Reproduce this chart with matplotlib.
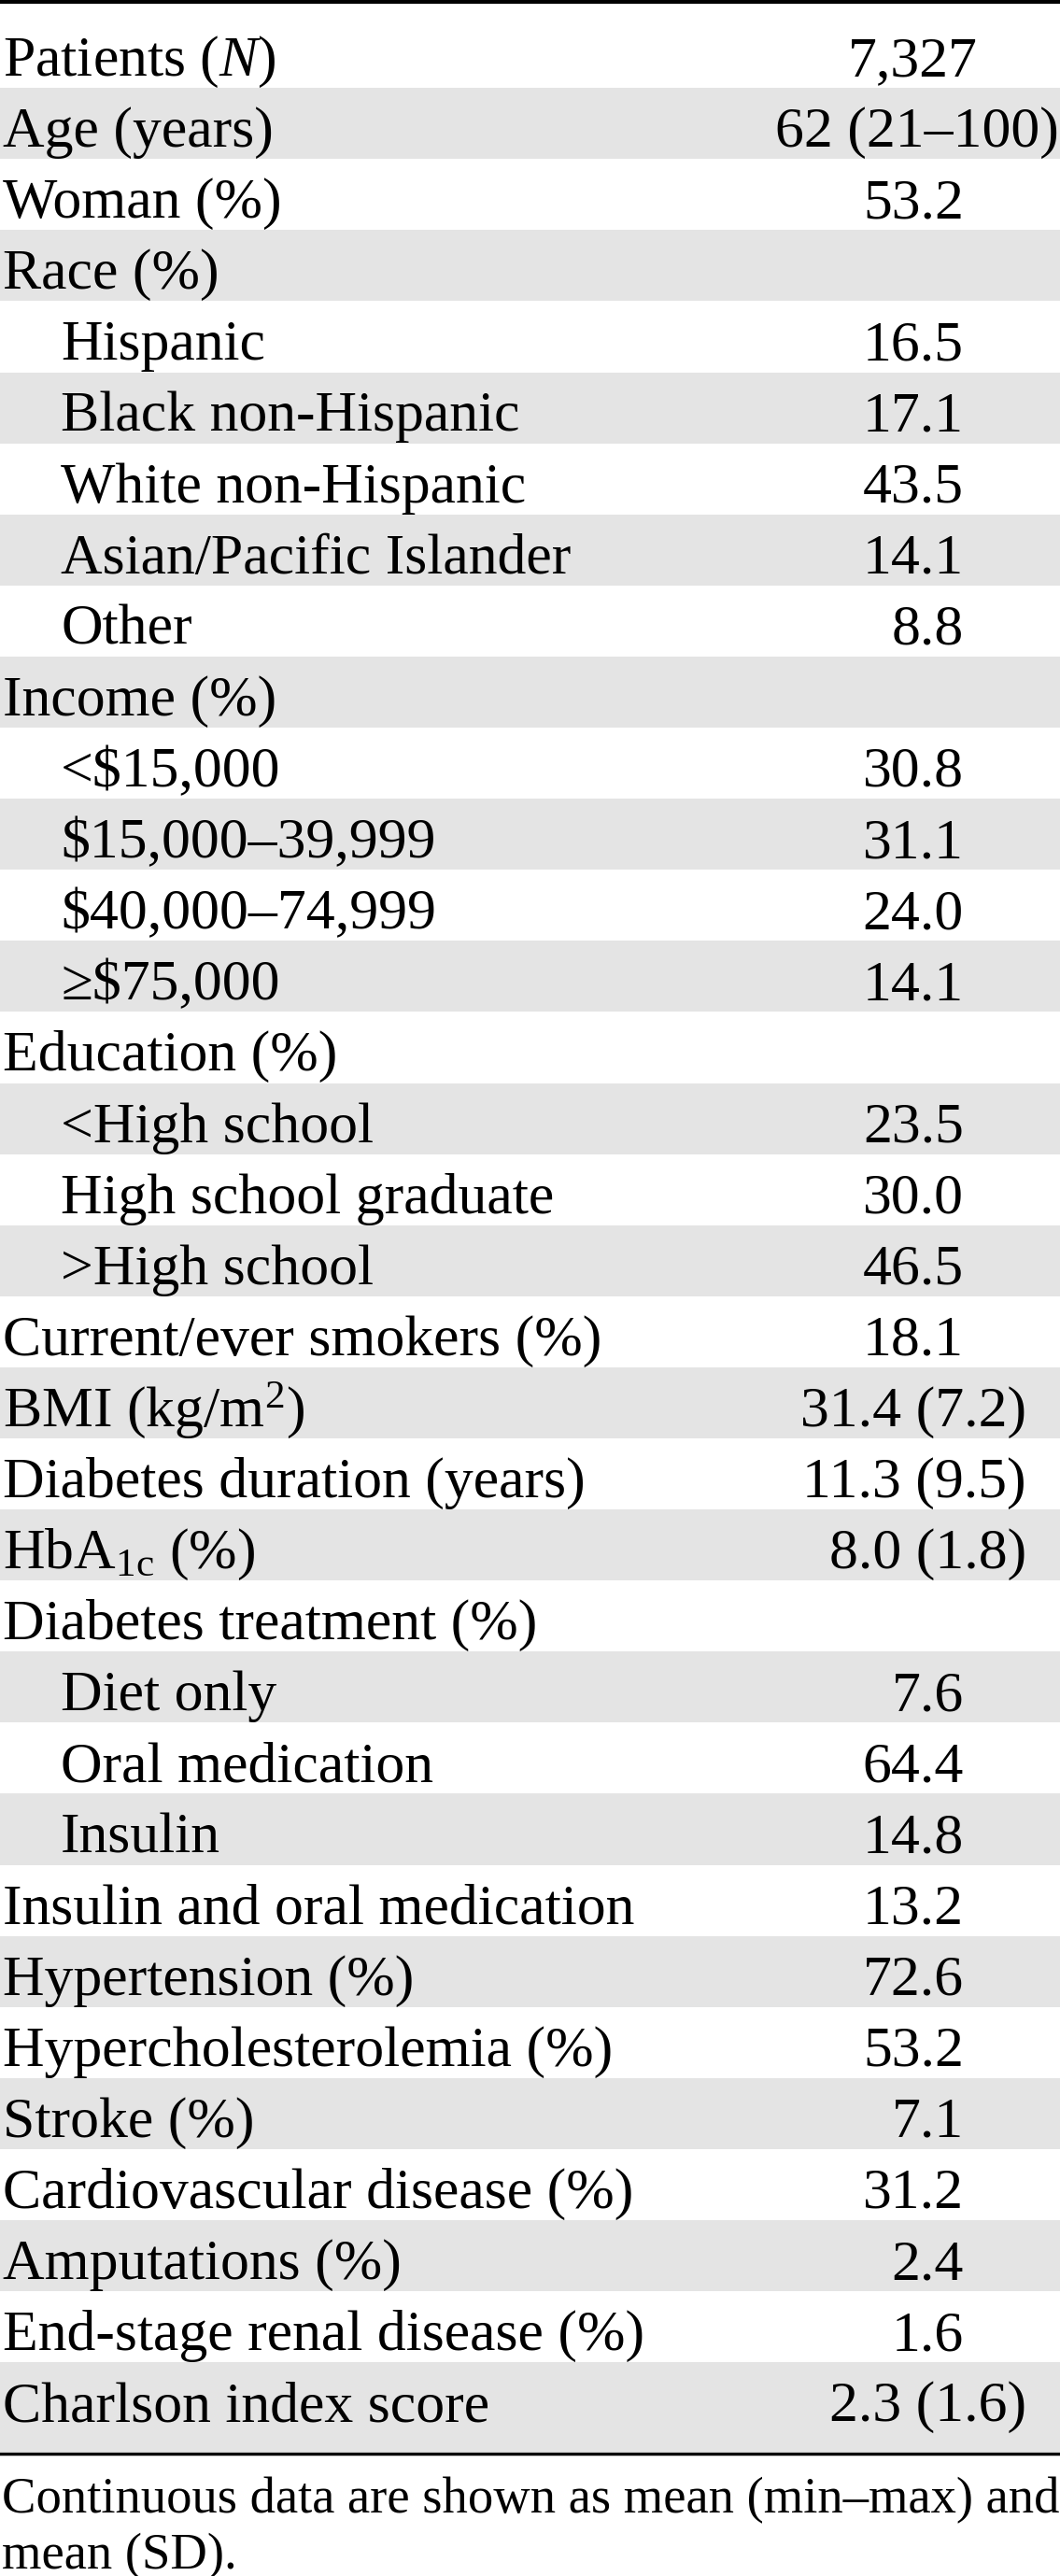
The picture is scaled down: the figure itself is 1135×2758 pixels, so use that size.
#!/usr/bin/env python3
"""Baseline patient characteristics table, drawn with matplotlib."""

import matplotlib

matplotlib.use("Agg")
import matplotlib.pyplot as plt

plt.rcParams["font.family"] = ["Liberation Serif", "DejaVu Serif"]
plt.rcParams["mathtext.fontset"] = "custom"
plt.rcParams["mathtext.rm"] = "Liberation Serif"
plt.rcParams["mathtext.it"] = "Liberation Serif:italic"

# --- table content ---------------------------------------------------------
labels = [
    "Patients ($N$)", "Age (years)", "Woman (%)", "Race (%)",
    "Hispanic", "Black non-Hispanic", "White non-Hispanic",
    "Asian/Pacific Islander", "Other",
    "Income (%)", "<$15,000", "$15,000–39,999", "$40,000–74,999", "≥$75,000",
    "Education (%)", "<High school", "High school graduate", ">High school",
    "Current/ever smokers (%)", "BMI (kg/m$^2$)", "Diabetes duration (years)",
    r"HbA$_{\mathrm{1c}}$ (%)", "Diabetes treatment (%)",
    "Diet only", "Oral medication", "Insulin",
    "Insulin and oral medication", "Hypertension (%)",
    "Hypercholesterolemia (%)", "Stroke (%)", "Cardiovascular disease (%)",
    "Amputations (%)", "End-stage renal disease (%)", "Charlson index score",
]
values = [
    "7,327", "62 (21–100)", "53.2", "",
    "16.5", "17.1", "43.5", "14.1", "8.8",
    "", "30.8", "31.1", "24.0", "14.1",
    "", "23.5", "30.0", "46.5",
    "18.1", "31.4 (7.2)", "11.3 (9.5)", "8.0 (1.8)", "",
    "7.6", "64.4", "14.8",
    "13.2", "72.6", "53.2", "7.1", "31.2", "2.4", "1.6", "2.3 (1.6)",
]
indented = [
    False, False, False, False,
    True, True, True, True, True,
    False, True, True, True, True,
    False, True, True, True,
    False, False, False, False, False,
    True, True, True,
    False, False, False, False, False, False, False, False,
]
footnote = ["Continuous data are shown as mean (min–max) and", "mean (SD)."]

# --- geometry (pixels) -----------------------------------------------------
W, H = 1135, 2758
TOP = 18.0
ROW_H = 76.1
LAST_EXTRA = 20.0
BASELINE_OFF = 63.0
FS = 44.5
GRAY = "#e4e4e4"


def value_anchor(v):
    if "–" in v:
        return 1134, "right"
    if "(" in v:
        return 1099, "right"
    if "," in v:
        return 977, "center"
    return 1032, "right"


fig = plt.figure(figsize=(W / 100, H / 100), dpi=100)
ax = fig.add_axes([0, 0, 1, 1])
ax.set_xlim(0, W)
ax.set_ylim(H, 0)
ax.axis("off")

n = len(labels)
tops = [TOP + ROW_H * i for i in range(n)]
heights = [ROW_H if i < n - 1 else ROW_H + LAST_EXTRA for i in range(n)]
shaded = [i for i in range(n) if i % 2 == 1]
ax.bar(
    [0] * len(shaded), [heights[i] for i in shaded], width=W,
    bottom=[tops[i] for i in shaded], align="edge", color=GRAY, linewidth=0,
)

for i, (lab, val, ind) in enumerate(zip(labels, values, indented)):
    y = tops[i] + BASELINE_OFF
    ax.text(65 if ind else 3, y, lab, fontsize=FS, va="baseline", ha="left")
    if val:
        x, ha = value_anchor(val)
        ax.text(x, y, val, fontsize=FS, va="baseline", ha=ha)

bottom = tops[-1] + heights[-1]
ax.axhline(2, color="black", lw=2.9)
ax.axhline(bottom + 1.5, color="black", lw=2.5)

for j, line in enumerate(footnote):
    ax.text(2, 2690 + 60 * j, line, fontsize=39.3, va="baseline", ha="left")

fig.savefig("out.png", dpi=100)
